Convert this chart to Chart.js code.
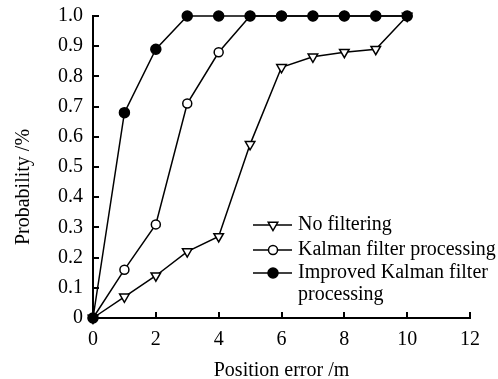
<!DOCTYPE html>
<html><head><meta charset="utf-8">
<script src="https://cdn.jsdelivr.net/npm/chart.js@4/dist/chart.umd.min.js"></script>
<style>html,body{margin:0;padding:0;background:#fff}</style>
</head><body>
<canvas id="c" width="498" height="379"></canvas>
<script>
const positionError = [0,1,2,3,4,5,6,7,8,9,10];
const noFiltering = [0,0.07,0.14,0.22,0.27,0.575,0.83,0.865,0.88,0.89,1.0];
const kalmanFilter = [0,0.16,0.31,0.71,0.88,1.0,1.0,1.0,1.0,1.0,1.0];
const improvedKalman = [0,0.68,0.89,1.0,1.0,1.0,1.0,1.0,1.0,1.0,1.0];
const seriesLabels = ['No filtering','Kalman filter processing','Improved Kalman filter processing'];
const xTickValues = [0,2,4,6,8,10,12];
const yTickValues = [0,0.1,0.2,0.3,0.4,0.5,0.6,0.7,0.8,0.9,1.0];

const FONT = "'Liberation Serif','Times New Roman',serif";
const pts = arr => arr.map((v,i)=>({x:positionError[i], y:v}));

const styles = [
  {pointStyle:'triangle', rotation:180, radius:5.5, bg:'#fff'},
  {pointStyle:'circle', rotation:0, radius:4.5, bg:'#fff'},
  {pointStyle:'circle', rotation:0, radius:5, bg:'#000'}
];
const values = [noFiltering, kalmanFilter, improvedKalman];

const datasets = values.map((v,i)=>({
  label: seriesLabels[i],
  data: pts(v),
  borderColor:'#000', borderWidth:1.5,
  pointStyle: styles[i].pointStyle, rotation: styles[i].rotation,
  pointRadius: styles[i].radius, pointBackgroundColor: styles[i].bg,
  pointBorderColor:'#000', pointBorderWidth:1.5,
  tension:0, clip:false, order: 2-i
}));

const innerTicks = {
  id:'innerTicks',
  afterDraw(chart){
    const ctx = chart.ctx, xs = chart.scales.x, ys = chart.scales.y, a = chart.chartArea;
    ctx.save(); ctx.strokeStyle='#000'; ctx.lineWidth=2;
    xTickValues.forEach(v=>{ const px = Math.round(xs.getPixelForValue(v)); ctx.beginPath(); ctx.moveTo(px,a.bottom); ctx.lineTo(px,a.bottom-6); ctx.stroke(); });
    yTickValues.forEach(v=>{ const py = Math.round(ys.getPixelForValue(v)); ctx.beginPath(); ctx.moveTo(a.left,py); ctx.lineTo(a.left+6,py); ctx.stroke(); });
    ctx.restore();
  }
};

const customLegend = {
  id:'customLegend',
  afterDraw(chart){
    const ctx = chart.ctx;
    const rows = [
      {y:225, lines:[seriesLabels[0]]},
      {y:250, lines:[seriesLabels[1]]},
      {y:273, lines:['Improved Kalman filter','processing']}
    ];
    ctx.save();
    ctx.font = "20px " + FONT;
    ctx.textBaseline = 'middle';
    rows.forEach((r,i)=>{
      ctx.strokeStyle='#000'; ctx.lineWidth=1.5;
      ctx.beginPath(); ctx.moveTo(253,r.y); ctx.lineTo(292,r.y); ctx.stroke();
      ctx.fillStyle = styles[i].bg; ctx.strokeStyle='#000'; ctx.lineWidth=1.5;
      Chart.helpers.drawPoint(ctx,{pointStyle:styles[i].pointStyle, rotation:styles[i].rotation, radius:styles[i].radius, borderWidth:1.5}, 273, r.y);
      ctx.fillStyle='#000';
      r.lines.forEach((t,j)=>ctx.fillText(t, 298, r.y + j*22));
    });
    ctx.restore();
  }
};

new Chart(document.getElementById('c'), {
  type:'line',
  data:{datasets},
  options:{
    responsive:false, devicePixelRatio:1, animation:false,
    layout:{padding:{left:0,right:28,top:16,bottom:0}},
    plugins:{legend:{display:false}, tooltip:{enabled:false}},
    scales:{
      x:{type:'linear', min:0, max:12,
        afterBuildTicks: s => { s.ticks = xTickValues.map(v=>({value:v})); },
        afterFit: s => { s.height = 61; s.paddingLeft = 0; s.paddingRight = 0; },
        grid:{display:true, drawOnChartArea:false, drawTicks:false},
        border:{display:true, color:'#000', width:2},
        ticks:{color:'#000', font:{family:FONT, size:20}, padding:10, maxRotation:0},
        title:{display:true, text:'Position error /m', color:'#000', font:{family:FONT, size:20}, padding:{top:0,bottom:-4}}
      },
      y:{type:'linear', min:0, max:1,
        afterBuildTicks: s => { s.ticks = yTickValues.map(v=>({value:v})); },
        afterFit: s => { s.width = 93; s.paddingTop = 0; s.paddingBottom = 0; },
        grid:{display:true, drawOnChartArea:false, drawTicks:false},
        border:{display:true, color:'#000', width:2},
        ticks:{color:'#000', font:{family:FONT, size:20}, padding:10,
          callback: v => v===0 ? '0' : Number(v).toFixed(1)},
        title:{display:true, text:'Probability /%\u00a0\u00a0\u00a0\u00a0\u00a0\u00a0\u00a0\u00a0', color:'#000', font:{family:FONT, size:20}, padding:{top:12,bottom:0}}
      }
    }
  },
  plugins:[innerTicks, customLegend]
});
</script>
</body></html>
